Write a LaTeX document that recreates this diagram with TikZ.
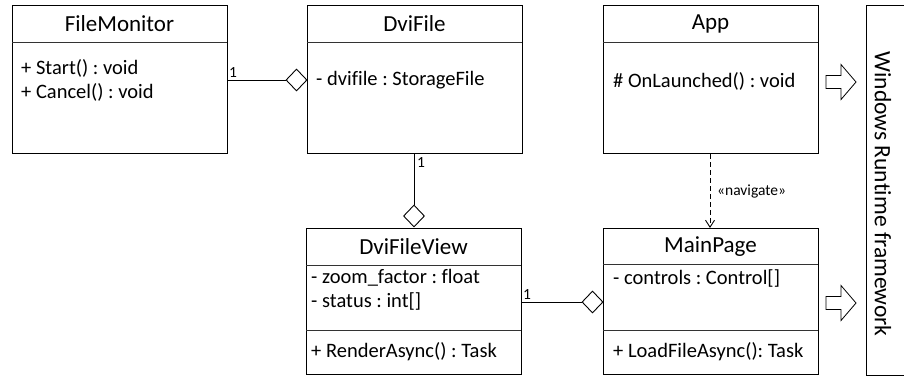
\documentclass[tikz,border=0pt]{standalone}
\usepackage{fontspec}
\setmainfont{Carlito}[Ligatures=NoCommon]
\frenchspacing
\usetikzlibrary{shapes.geometric,arrows.meta}
\tikzset{
  classbox/.style={draw, line width=1pt, anchor=north west, inner sep=0pt},
  sepline/.style={line width=0.8pt, draw=black!80},
  ctitle/.style={font=\fontsize{23}{26}\selectfont, inner sep=0pt},
  member/.style={font=\fontsize{20.5}{24}\selectfont, anchor=west, inner sep=0pt},
  lbl/.style={font=\fontsize{15.5}{18}\selectfont, inner sep=0pt},
  agg/.style={draw, diamond, line width=0.9pt, minimum width=21pt, minimum height=22pt, inner sep=0pt, aspect=1, fill=white},
  conn/.style={line width=0.9pt},
  blockarrow/.style={draw, line width=0.8pt, fill=white},
}
\begin{document}
\begin{tikzpicture}[x=1pt,y=-1pt]
\useasboundingbox (0,0) rectangle (904,376);
% class boxes
\node[classbox, minimum width=215pt, minimum height=148pt] (fm) at (12,5) {};
\node[classbox, minimum width=215pt, minimum height=148pt] (df) at (307,5) {};
\node[classbox, minimum width=215pt, minimum height=148pt] (app) at (603,5) {};
\node[classbox, minimum width=215pt, minimum height=146pt] (dfv) at (306,228) {};
\node[classbox, minimum width=215pt, minimum height=146pt] (mp) at (603,228) {};
% separators
\draw[sepline] (12,42) -- (227,42);
\draw[sepline] (307,42) -- (522,42);
\draw[sepline] (603,42) -- (818,42);
\draw[sepline] (306,265) -- (521,265);
\draw[sepline] (306,330) -- (521,330);
\draw[sepline] (603,264) -- (818,264);
\draw[sepline] (603,330) -- (818,330);
% titles
\node[ctitle] (fmt) at (119.5,24) {FileMonitor};
\node[ctitle] (dft) at (414.5,24) {DviFile};
\node[ctitle] (appt) at (710.5,24) {App};
\node[ctitle] (dfvt) at (413.5,247) {DviFileView};
\node[ctitle] (mpt) at (710.5,247) {MainPage};
% members
\node[member] (fm1) at (21,68) {+ Start() : void};
\node[member] (fm2) at (21,92) {+ Cancel() : void};
\node[member] (df1) at (316,80) {- dvifile : StorageFile};
\node[member] (app1) at (613,81) {\# OnLaunched() : void};
\node[member] (dfv1) at (311,278) {- zoom\_factor : float};
\node[member] (dfv2) at (311,301) {- status : int[]};
\node[member] (dfv3) at (311,352) {+ RenderAsync() : Task};
\node[member] (mp1) at (613,278) {- controls : Control[]};
\node[member] (mp2) at (613,352) {+ LoadFileAsync(): Task};
% aggregations
\node[agg] (d1) at (296.5,80) {};
\draw[conn] (d1.west) -- (d1.west -| fm.east);
\node[lbl, anchor=south west] (l1) at (229,78) {1};
\node[agg] (d2) at (414,216) {};
\draw[conn] (d2.north) -- (d2.north |- df.south);
\node[lbl, anchor=north west] (l2) at (417,157) {1};
\node[agg] (d3) at (592.5,302) {};
\draw[conn] (d3.west) -- (d3.west -| dfv.east);
\node[lbl, anchor=south west] (l3) at (523,300) {1};
% navigate dependency
\draw[conn, dash pattern=on 5pt off 3pt, -{Straight Barb[length=7pt,width=9pt,line width=0.9pt]}] (app.south -| 710,0) -- (mp.north -| 710,0);
\node[lbl, anchor=west] (nav) at (717,191) {«navigate»};
% Windows Runtime framework box
\draw[line width=1pt] (906,5) -- (866,5) -- (866,375) -- (906,375);
\node[font=\fontsize{23.5}{26}\selectfont, rotate=-90, inner sep=0pt] (wrt) at (883,194) {Windows Runtime framework};
% block arrows
\draw[blockarrow] (826,75.5) -- (841,75.5) -- (841,64.5) -- (856,82) -- (841,99.5) -- (841,88.5) -- (826,88.5) -- cycle;
\draw[blockarrow] (826,296.5) -- (841,296.5) -- (841,285.5) -- (856,303) -- (841,320.5) -- (841,309.5) -- (826,309.5) -- cycle;
\end{tikzpicture}
\end{document}
